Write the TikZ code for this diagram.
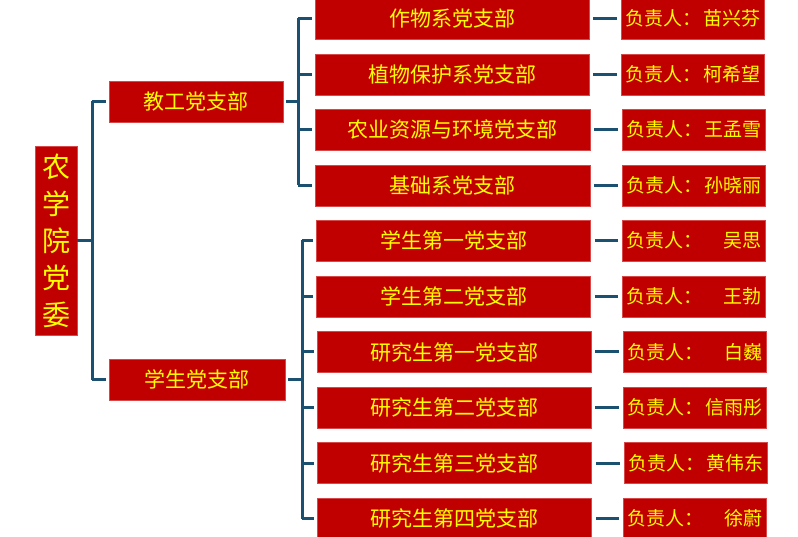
\documentclass[tikz,border=0pt]{standalone}
\usepackage{fontspec}
\newfontfamily\cjk{Noto Sans CJK SC}
\definecolor{boxred}{HTML}{C00000}
\definecolor{boxedge}{HTML}{D84848}
\definecolor{txtyel}{HTML}{FFFF00}
\definecolor{linec}{HTML}{1B5070}
\tikzset{
  box/.style={rectangle, fill=boxred, draw=boxedge, line width=0.7pt, text=txtyel, inner sep=0pt, minimum height=41pt},
  lvone/.style={box, font=\cjk\fontsize{21}{21}\selectfont},
  lvtwo/.style={box, minimum width=274pt, font=\cjk\fontsize{21}{21}\selectfont},
  person/.style={box, minimum width=143pt, text width=135pt, align=left, font=\cjk\fontsize{19}{19}\selectfont},
  conn/.style={draw=linec, line width=3pt},
}
\begin{document}
\begin{tikzpicture}[x=1pt,y=-1pt]
\useasboundingbox (0,0) rectangle (798,537);
% root
\node[box, minimum width=42pt, minimum height=189pt, align=center, font=\cjk\fontsize{28}{37}\selectfont] (root) at (56,240.5) {农\\学\\院\\党\\委};
% level one
\node[lvone, minimum width=174pt] (jg) at (196,101.5) {教工党支部};
\node[lvone, minimum width=176pt] (xs) at (197,379.5) {学生党支部};
% level two teaching
\node[lvtwo] (a1) at (452,18.5) {作物系党支部};
\node[lvtwo] (a2) at (452,74.5) {植物保护系党支部};
\node[lvtwo, minimum width=275pt] (a3) at (452.5,129.5) {农业资源与环境党支部};
\node[lvtwo, minimum width=275pt] (a4) at (452.5,185.5) {基础系党支部};
% level two students
\node[lvtwo] (b1) at (453.5,240.5) {学生第一党支部};
\node[lvtwo] (b2) at (453.5,296.5) {学生第二党支部};
\node[lvtwo] (b3) at (454,352) {研究生第一党支部};
\node[lvtwo] (b4) at (454,407.5) {研究生第二党支部};
\node[lvtwo] (b5) at (454.5,463) {研究生第三党支部};
\node[lvtwo] (b6) at (454.5,518.5) {研究生第四党支部};
% persons
\node[person] (p1) at (692.5,18.5) {负责人：\hfill 苗兴芬};
\node[person] (p2) at (692.5,74.5) {负责人：\hfill 柯希望};
\node[person] (p3) at (693.5,129.5) {负责人：\hfill 王孟雪};
\node[person] (p4) at (693.5,185.5) {负责人：\hfill 孙晓丽};
\node[person] (p5) at (694,240.5) {负责人：\hfill 吴思};
\node[person] (p6) at (694,296.5) {负责人：\hfill 王勃};
\node[person] (p7) at (694.5,352) {负责人：\hfill 白巍};
\node[person] (p8) at (694.5,407.5) {负责人：\hfill 信雨彤};
\node[person] (p9) at (695.5,463) {负责人：\hfill 黄伟东};
\node[person] (p10) at (694.5,518.5) {负责人：\hfill 徐蔚};
% trunk coordinates
\coordinate (tr0) at (92,0);
\coordinate (tr1) at (298,0);
\coordinate (tr2) at (302,0);
% root connectors
\draw[conn] (root.east) -- (root.east -| tr0);
\draw[conn] (tr0 |- jg.west) -- (tr0 |- xs.west);
\draw[conn, shorten >=3pt] (tr0 |- jg.west) -- (jg.west);
\draw[conn, shorten >=3pt] (tr0 |- xs.west) -- (xs.west);
% teaching tree
\draw[conn, shorten <=3pt] (jg.east) -- (jg.east -| tr1);
\draw[conn] (tr1 |- a1.west) -- (tr1 |- a4.west);
\foreach \n in {a1,a2,a3,a4}{
  \draw[conn, shorten >=3pt] (tr1 |- \n.west) -- (\n.west);
}
% student tree
\draw[conn, shorten <=3pt] (xs.east) -- (xs.east -| tr2);
\draw[conn] (tr2 |- b1.west) -- (tr2 |- b6.west);
\foreach \n in {b1,b2,b3,b4,b5,b6}{
  \draw[conn, shorten >=3pt] (tr2 |- \n.west) -- (\n.west);
}
% person connectors
\foreach \s/\t in {a1/p1,a2/p2,a3/p3,a4/p4,b1/p5,b2/p6,b3/p7,b4/p8,b5/p9,b6/p10}{
  \draw[conn, shorten <=4pt, shorten >=4pt] (\s.east) -- (\s.east -| \t.west);
}
\end{tikzpicture}
\end{document}
